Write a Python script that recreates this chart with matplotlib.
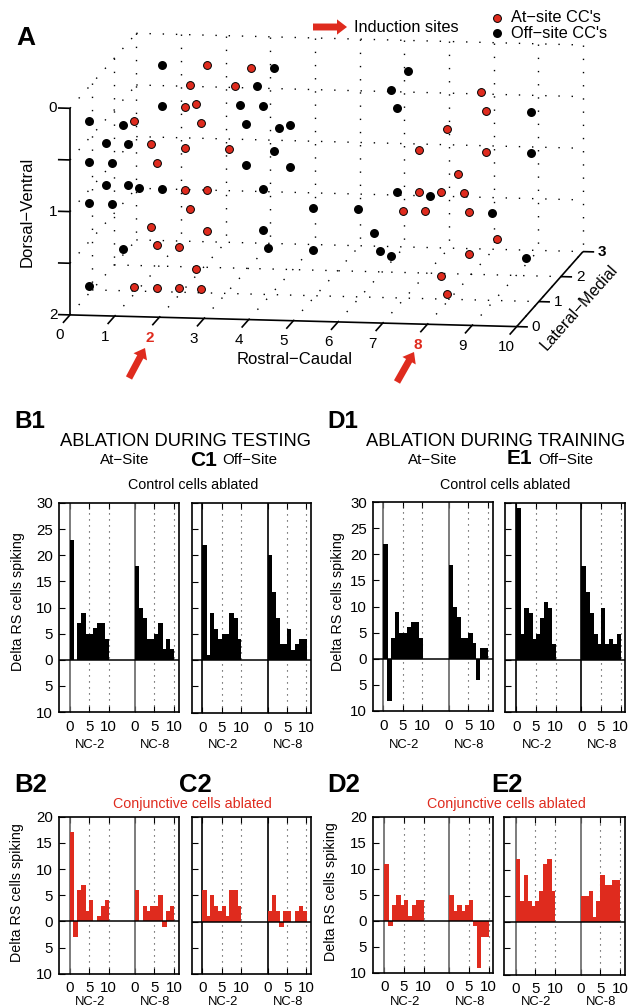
import matplotlib
matplotlib.use("Agg")
import matplotlib.pyplot as plt
import numpy as np

plt.rcParams["font.family"] = ["Liberation Sans", "DejaVu Sans"]

RED = "#df2b1e"

# Panel A: recording sites, (rostral-caudal, lateral-medial, dorsal-ventral)
off_rc = [0.82, 3.32, 2.94, 1.32, 3.06, 3.57, 0.18, 0.44, 3.20, 3.94, 4.19, 0.07, 0.56, 3.82, 0.18,
          0.19, 3.20, 4.19, 0.07, 0.56, 0.81, 1.32, 3.57, 0.18, 0.69, 5.19, 4.07, 0.93, 4.19, 5.19,
          0.18, 6.33, 5.95, 6.58, 9.58, 9.58, 6.58, 7.32, 6.19, 9.19, 6.56, 6.69, 6.94, 9.95]
off_lm = [2.5, 2.5, 2.5, 1.5, 1.5, 1.5, 0.5, 1.5, 1.5, 1.5, 1.5, 1.5, 1.5, 1.5, 0.5,
          1.5, 1.5, 1.5, 1.5, 1.5, 1.5, 1.5, 1.5, 0.5, 0.5, 0.5, 0.5, 0.5, 0.5, 0.5,
          0.5, 2.5, 2.5, 1.5, 1.5, 1.5, 1.5, 1.5, 0.5, 0.5, 0.5, 0.5, 0.5, 0.5]
off_dv = [0.18, 0.18, 0.36, 0.33, 0.30, 0.30, 0.24, 0.52, 0.48, 0.51, 0.48, 0.70, 0.70, 0.73, 0.64,
          0.89, 0.88, 0.88, 1.10, 1.10, 1.13, 1.13, 1.10, 1.04, 1.04, 1.03, 1.25, 1.47, 1.43, 1.43,
          1.84, 0.17, 0.36, 0.29, 0.29, 0.69, 1.10, 1.13, 1.03, 1.03, 1.25, 1.43, 1.47, 1.46]

at_rc = [1.82, 2.82, 1.44, 2.46, 1.83, 2.07, 0.70, 2.19, 1.07, 1.83, 2.81, 1.20, 1.83, 2.32, 2.43,
         1.57, 2.81, 1.69, 2.19, 2.57, 1.19, 1.69, 2.19, 2.69, 7.96, 8.57, 7.70, 7.06, 8.57, 7.95,
         7.06, 7.57, 8.08, 7.20, 7.69, 8.69, 9.31, 8.69, 8.06, 8.19]
at_lm = [2.5, 2.5, 2.5, 2.5, 1.5, 1.5, 1.5, 1.5, 1.5, 1.5, 1.5, 1.5, 1.5, 1.5, 0.5,
         0.5, 0.5, 0.5, 0.5, 0.5, 0.5, 0.5, 0.5, 0.5, 2.5, 1.5, 1.5, 1.5, 1.5, 1.5,
         1.5, 1.5, 1.5, 0.5, 0.5, 0.5, 0.5, 0.5, 0.5, 0.5]
at_dv = [0.17, 0.18, 0.36, 0.36, 0.33, 0.30, 0.48, 0.48, 0.70, 0.73, 0.73, 0.88, 1.13, 1.13, 1.07,
         1.25, 1.28, 1.43, 1.44, 1.65, 1.84, 1.84, 1.84, 1.84, 0.36, 0.29, 0.48, 0.69, 0.69, 0.91,
         1.09, 1.09, 1.09, 1.03, 1.03, 1.03, 1.28, 1.43, 1.65, 1.83]

# Bar panels, one value per bin from 0 to 10
b1_nc2 = [23, 0, 7, 9, 5, 5, 6, 7, 7, 4]
b1_nc8 = [18, 10, 8, 4, 4, 5, 7, 2, 4, 2]
c1_nc2 = [22, 1, 9, 6, 4, 5, 5, 9, 8, 4]
c1_nc8 = [20, 13, 8, 3, 3, 6, 2, 3, 4, 4]
d1_nc2 = [22, -8, 4, 9, 5, 5, 6, 7, 7, 4]
d1_nc8 = [18, 10, 8, 4, 4, 5, 3, -4, 2, 2]
e1_nc2 = [29, 5, 10, 9, 4, 5, 8, 11, 10, 3]
e1_nc8 = [18, 13, 9, 5, 3, 10, 3, 4, 3, 5]
b2_nc2 = [17, -3, 6, 7, 2, 4, 0, 1, 3, 4]
b2_nc8 = [6, 0, 3, 2, 3, 3, 5, -1, 2, 3]
c2_nc2 = [6, 1, 5, 3, 2, 3, 1, 6, 6, 3]
c2_nc8 = [2, 5, 2, -1, 2, 2, 0, 2, 3, 2]
d2_nc2 = [11, -1, 3, 5, 3, 4, 1, 3, 4, 4]
d2_nc8 = [5, 2, 3, 2, 3, 4, -1, -9, -3, -3]
e2_nc2 = [12, 4, 9, 4, 3, 4, 6, 11, 12, 6]
e2_nc8 = [5, 5, 6, 1, 4, 9, 7, 7, 8, 8]

top_yticks = [-10, -5, 0, 5, 10, 15, 20, 25, 30]
low_yticks = [-10, -5, 0, 5, 10, 15, 20]

fig = plt.figure(figsize=(6.38, 10.08), dpi=100)
W, H = 638.0, 1008.0

# Full page axes in pixels, for panel A and the loose text
page = fig.add_axes([0, 0, 1, 1])
page.set_xlim(0, W)
page.set_ylim(H, 0)
page.axis("off")


def project(rc, lm, dv):
    rc, lm, dv = np.asarray(rc, float), np.asarray(lm, float), np.asarray(dv, float)
    return 70 + 44.67 * rc + 22.1 * lm, 108.3 + 1.17 * rc - 25 * lm + 103.3 * dv


def dotted(a, b):
    x, y = project(*zip(a, b))
    page.plot(x, y, color="black", lw=1.0, ls=(0, (1, 8.5)), zorder=1)


def solid(a, b):
    x, y = project(*zip(a, b))
    page.plot(x, y, color="black", lw=1.2, zorder=2, solid_capstyle="butt")


# Dotted grid on the three walls
for rc in range(11):
    dotted((rc, 3, 0), (rc, 3, 2))
    if rc > 0:
        dotted((rc, 0, 2), (rc, 3, 2))
for dv in [0, 0.5, 1, 1.5, 2]:
    dotted((0, 3, dv), (10, 3, dv))
    if dv < 2:
        dotted((0, 0, dv), (0, 3, dv))
for lm in [1, 2]:
    dotted((0, lm, 0), (0, lm, 2))
    dotted((0, lm, 2), (10, lm, 2))
dotted((0, 0, 2), (0, 3, 2))

# Solid axes
solid((0, 0, 0), (0, 0, 2))
solid((0, 0, 2), (10, 0, 2))
solid((10, 0, 2), (10, 3, 2))
for dv in [0, 0.5, 1, 1.5, 2]:
    solid((0, 0, dv), (-0.27, 0, dv))
for rc in range(11):
    solid((rc, 0, 2), (rc, -0.32, 2))
    color, weight = (RED, "bold") if rc in (2, 8) else ("black", "normal")
    x, y = project(rc, -0.45, 2.09)
    page.text(x, y, str(rc), color=color, weight=weight, fontsize=11, ha="center", va="center")
for lm in range(4):
    solid((10, lm, 2), (10.25, lm, 2))
    x, y = project(10.43, lm, 2)
    page.text(x, y, str(lm), fontsize=11, ha="center", va="center",
              weight="bold" if lm == 3 else "normal")
for dv in [0, 1, 2]:
    x, y = project(0, 0, dv)
    page.text(x - 17, y, str(dv), fontsize=11, ha="center", va="center")

x, y = project(off_rc, off_lm, off_dv)
page.scatter(x, y, s=42, color="black", linewidths=0, zorder=3)
x, y = project(at_rc, at_lm, at_dv)
page.scatter(x, y, s=32, color=RED, edgecolors="black", linewidths=0.7, zorder=3)

page.text(295, 360, "Rostral\u2212Caudal", fontsize=12, ha="center", va="center")
page.text(27, 212, "Dorsal\u2212Ventral", fontsize=12, rotation=90, ha="center", va="center")
page.text(579, 307, "Lateral\u2212Medial", fontsize=11.8, rotation=48.5, ha="center", va="center",
          rotation_mode="anchor")

# Legend and induction arrows
page.scatter([497.3], [18.3], s=32, color=RED, edgecolors="black", linewidths=0.7)
page.scatter([497.3], [33.3], s=42, color="black", linewidths=0)
page.text(510.7, 18, "At\u2212site CC's", fontsize=11.8, va="center")
page.text(510.7, 33.5, "Off\u2212site CC's", fontsize=11.8, va="center")
page.text(354, 28, "Induction sites", fontsize=11.8, va="center")
for tail, head in [((313, 27), (347, 27)), ((129, 378), (145, 348)), ((397, 382), (414, 352))]:
    page.annotate("", xy=head, xytext=tail,
                  arrowprops=dict(arrowstyle="simple,head_length=0.72,head_width=1.1,tail_width=0.5",
                                  color=RED, lw=0, shrinkA=0, shrinkB=0))

# Panel letters and headings
for label, x, y, size in [("A", 16, 38, 19), ("B1", 14, 421, 17.5), ("D1", 327, 421, 17.5),
                          ("C1", 190, 460, 15), ("E1", 507, 459, 15),
                          ("B2", 14, 785, 18.5), ("C2", 179, 785, 18.5), ("D2", 327, 785, 18.5), ("E2", 491, 785, 18.5)]:
    page.text(x, y, label, weight="bold", fontsize=size, va="center")

page.text(185.5, 441, "ABLATION DURING TESTING", fontsize=13.2, ha="center", va="center")
page.text(496, 441, "ABLATION DURING TRAINING", fontsize=13.2, ha="center", va="center")
for label, x in [("At\u2212Site", 125), ("Off\u2212Site", 250), ("At\u2212Site", 433), ("Off\u2212Site", 566)]:
    page.text(x, 460, label, fontsize=10.9, ha="center", va="center")
for x in [193, 505]:
    page.text(x, 485, "Control cells ablated", fontsize=10.3, ha="center", va="center")
for x in [192.5, 506]:
    page.text(x, 804, "Conjunctive cells ablated", fontsize=10.3, color=RED, ha="center", va="center")


def panel(box, zero_px, nc2, nc8, color, yticks, ymax, labelled, pad, name_y, line_color):
    left, right, top, bottom = box
    t2_0, t2_10, t8_0, t8_10 = zero_px
    ax = fig.add_axes([left / W, 1 - bottom / H, (right - left) / W, (bottom - top) / H])
    ppu = (t2_10 - t2_0) / 10
    shift = (t8_0 - t2_0) / ppu
    ax.set_xlim((left - t2_0) / ppu, (right - t2_0) / ppu)
    ax.set_ylim(-10, ymax)

    ax.bar(np.arange(10), nc2, width=1.12, align="edge", color=color, linewidth=0, zorder=3)
    ax.bar(np.arange(10) + shift, nc8, width=1.12, align="edge", color=color, linewidth=0, zorder=3)
    for off in [0, shift]:
        ax.axvline(off, color=line_color, lw=1.2, zorder=2)
        for v in [5, 10]:
            ax.axvline(off + v, color="#333333", lw=0.8, ls=(0, (1, 4.4)), zorder=2)
    ax.axhline(0, color="black", lw=1.1, zorder=5)

    ticks = [0, 5, 10, shift, shift + 5, shift + 10]
    ax.set_xticks(ticks)
    ax.set_xticklabels(["0", "5", "10", "0", "5", "10"], fontsize=10.8)
    ax.set_yticks(yticks)
    if labelled:
        ax.set_yticklabels([str(abs(v)) for v in yticks], fontsize=10.8)
    else:
        ax.set_yticklabels([])
    ax.tick_params(axis="x", direction="in", length=4.5, width=0.8, top=True, pad=pad)
    ax.tick_params(axis="y", direction="in", length=4.5, width=0.8, pad=4.5)
    for spine in ax.spines.values():
        spine.set_linewidth(1.2)

    page.text((t2_0 + t2_10) / 2 + 1, name_y, "NC-2", fontsize=9.4, ha="center", va="center")
    page.text((t8_0 + t8_10) / 2 + 1, name_y, "NC-8", fontsize=9.4, ha="center", va="center")


panel((59, 179, 503, 712), (69.5, 108.7, 134.7, 173.7), b1_nc2, b1_nc8, "black", top_yticks, 30, True, 6, 745, "#666666")
panel((192, 311, 503, 712.5), (202.3, 241, 267.7, 306.7), c1_nc2, c1_nc8, "black", top_yticks, 30, False, 6, 745, "black")
panel((373.3, 492.7, 502, 711), (383.3, 422.3, 448.7, 487.3), d1_nc2, d1_nc8, "black", top_yticks, 30, True, 6, 745, "#666666")
panel((505, 625, 503, 712), (516.3, 555.7, 581.3, 620.3), e1_nc2, e1_nc8, "black", top_yticks, 30, False, 6, 745, "black")
panel((59, 179, 816.7, 973.7), (69.5, 108.7, 134.7, 173.7), b2_nc2, b2_nc8, RED, low_yticks, 20, True, 5, 1002, "#666666")
panel((192, 311, 816.7, 974), (202.3, 241, 267.7, 306.7), c2_nc2, c2_nc8, RED, low_yticks, 20, False, 5, 1002, "black")
panel((373.3, 493.3, 817, 973), (384.3, 423.7, 449.3, 488.3), d2_nc2, d2_nc8, RED, low_yticks, 20, True, 5, 1002, "#666666")
panel((504.3, 624.7, 817, 974.7), (515.7, 555, 580.7, 619.7), e2_nc2, e2_nc8, RED, low_yticks, 20, False, 5, 1002, "#666666")

# Y axis titles
for x, y in [(18, 602), (338, 602), (17, 893), (331, 892)]:
    page.text(x, y, "Delta RS cells spiking", fontsize=10.25, rotation=90, ha="center", va="center")

fig.savefig("out.png", dpi=100)
